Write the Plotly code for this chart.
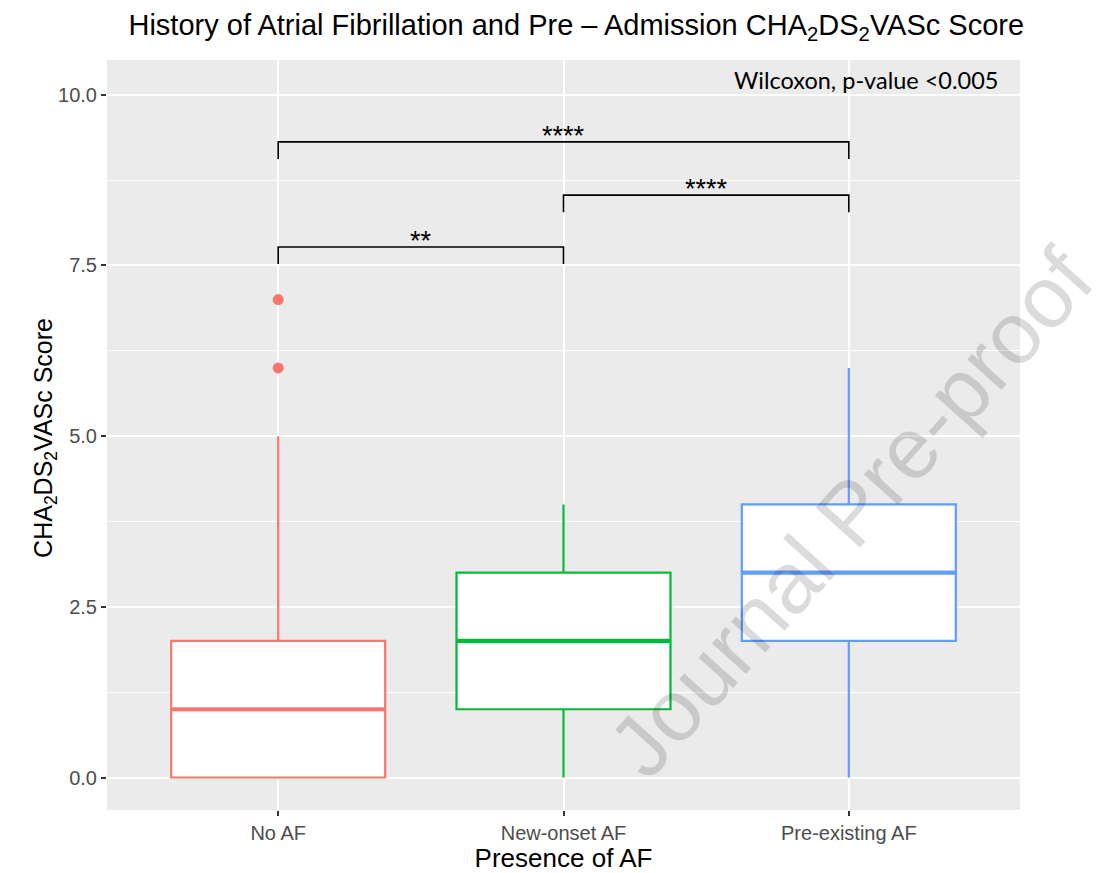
import plotly.graph_objects as go

# ---- data ----
categories = ["No AF", "New-onset AF", "Pre-existing AF"]
q1 = [0, 1, 2]
median = [1, 2, 3]
q3 = [2, 3, 4]
lower_whisker = [0, 0, 0]
upper_whisker = [5, 4, 6]
outlier_group = [0, 0]
outlier_values = [6, 7]
colors = ["#F8766D", "#00BA38", "#619CFF"]

bracket_from = [0, 1, 0]
bracket_to = [1, 2, 2]
bracket_y = [7.77, 8.53, 9.31]
bracket_labels = ["**", "****", "****"]
tip = 0.25

y_ticks = [0.0, 2.5, 5.0, 7.5, 10.0]
y_ticklabels = ["0.0", "2.5", "5.0", "7.5", "10.0"]

box_width = 0.75

fig = go.Figure()

for i, cat in enumerate(categories):
    fig.add_trace(go.Box(
        x=[i], q1=[q1[i]], median=[median[i]], q3=[q3[i]],
        lowerfence=[lower_whisker[i]], upperfence=[upper_whisker[i]],
        width=box_width, whiskerwidth=0,
        fillcolor="white", line=dict(color=colors[i], width=2.2),
        boxpoints=False, showlegend=False, name=cat,
    ))
    # thicker median line (ggplot fatten)
    fig.add_trace(go.Scatter(
        x=[i - box_width / 2, i + box_width / 2], y=[median[i], median[i]],
        mode="lines", line=dict(color=colors[i], width=4.2),
        showlegend=False, hoverinfo="skip",
    ))

fig.add_trace(go.Scatter(
    x=outlier_group, y=outlier_values, mode="markers",
    marker=dict(color=colors[0], size=11), showlegend=False,
))

for a, b, yv, lab in zip(bracket_from, bracket_to, bracket_y, bracket_labels):
    fig.add_trace(go.Scatter(
        x=[a, a, b, b], y=[yv - tip, yv, yv, yv - tip], mode="lines",
        line=dict(color="black", width=1.6), showlegend=False, hoverinfo="skip",
    ))
    fig.add_annotation(
        x=(a + b) / 2, y=yv, text=lab, showarrow=False, yanchor="bottom",
        yshift=-11, font=dict(family="Liberation Sans", size=27, color="black"),
    )

fig.add_annotation(
    x=0.978, y=10.22, xref="paper", yref="y", yanchor="middle", xanchor="right",
    text="Wilcoxon, p-value <0.005", showarrow=False,
    font=dict(family="Lato", size=23.5, color="black"),
)

# y-axis title
fig.add_annotation(
    x=-0.068, y=0.496, xref="paper", yref="paper", xanchor="center", yanchor="middle",
    text="CHA<sub>2</sub>DS<sub>2</sub>VASc Score", showarrow=False, textangle=-90,
    font=dict(family="Liberation Sans", size=25, color="black"),
)

# watermark
fig.add_annotation(
    x=0.814, y=0.397, xref="paper", yref="paper", xanchor="center", yanchor="middle",
    text="Journal Pre-proof", showarrow=False, textangle=-48,
    font=dict(family="Liberation Sans", size=87, color="rgba(0,0,0,0.14)"),
)

fig.update_layout(
    width=1104, height=873,
    margin=dict(l=107, r=84, t=60, b=63),
    paper_bgcolor="white", plot_bgcolor="#EBEBEB",
    title=dict(
        text="History of Atrial Fibrillation and Pre – Admission CHA<sub>2</sub>DS<sub>2</sub>VASc Score",
        x=0.522, xanchor="center", y=0.972, yanchor="middle",
        font=dict(family="Liberation Sans", size=29, color="black"),
    ),
    font=dict(family="Liberation Sans"),
)

fig.update_xaxes(
    range=[-0.6, 2.6], tickvals=list(range(len(categories))), ticktext=categories,
    showgrid=True, gridcolor="white", gridwidth=2, zeroline=False,
    ticks="outside", ticklen=5, tickwidth=1.5, tickcolor="#333333",
    tickfont=dict(size=20, color="#4D4D4D"),
    title=dict(text="Presence of AF", font=dict(size=26, color="black"), standoff=2),
    showline=False, automargin=False,
)
fig.update_yaxes(
    range=[-0.476, 10.51], tickvals=y_ticks, ticktext=y_ticklabels,
    showgrid=True, gridcolor="white", gridwidth=2, zeroline=False,
    ticks="outside", ticklen=5, tickwidth=1.5, tickcolor="#333333",
    tickfont=dict(size=20, color="#4D4D4D"),
    minor=dict(tickvals=[1.25, 3.75, 6.25, 8.75], showgrid=True, gridcolor="white", gridwidth=1, ticks=""),
    showline=False, automargin=False,
)

fig.write_html("out.html")
